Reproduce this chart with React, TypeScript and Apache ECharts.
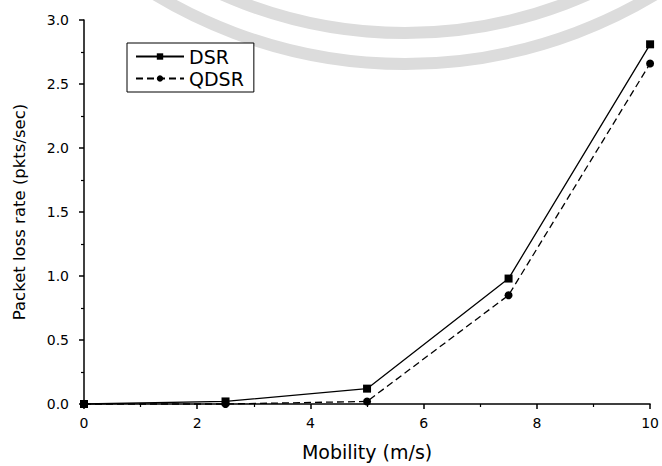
import React, { useEffect, useRef } from "react";
import * as echarts from "echarts";

const mobility = [0, 2.5, 5, 7.5, 10];
const dsr = [0, 0.02, 0.12, 0.98, 2.81];
const qdsr = [0, 0.0, 0.02, 0.85, 2.66];
const seriesNames = ["DSR", "QDSR"];
const xTitle = "Mobility (m/s)";
const yTitle = "Packet loss rate (pkts/sec)";

export default function App() {
  const ref = useRef<HTMLDivElement>(null);
  useEffect(() => {
    const chart = echarts.init(ref.current!, null, { renderer: "svg" });
    const font = "'DejaVu Sans', Verdana, sans-serif";
    const arcStyle = { stroke: "#dcdcdc", lineWidth: 12, fill: "none" };
    chart.setOption({
      animation: false,
      backgroundColor: "#fff",
      graphic: [
        {
          type: "arc",
          z: -10,
          silent: true,
          shape: { cx: 405, cy: -420, r: 453, startAngle: Math.PI / 2 - 0.7, endAngle: Math.PI / 2 + 0.7 },
          style: arcStyle,
        },
        {
          type: "arc",
          z: -10,
          silent: true,
          shape: { cx: 405, cy: -420, r: 484, startAngle: Math.PI / 2 - 0.7, endAngle: Math.PI / 2 + 0.7 },
          style: arcStyle,
        },
      ],
      grid: { left: 84, right: 8, top: 20, bottom: 59, containLabel: false },
      legend: {
        orient: "vertical",
        left: 127,
        top: 43,
        padding: [4, 10, 4, 8],
        itemGap: 3,
        itemWidth: 48,
        itemHeight: 8,
        borderColor: "#000",
        borderWidth: 1,
        borderRadius: 0,
        backgroundColor: "#fff",
        textStyle: { fontFamily: font, fontSize: 19, color: "#000" },
        data: seriesNames,
      },
      xAxis: {
        type: "value",
        min: 0,
        max: 10,
        interval: 2,
        name: xTitle,
        nameLocation: "middle",
        nameGap: 38,
        nameTextStyle: { fontFamily: font, fontSize: 19, color: "#000" },
        axisLine: { show: true, onZero: false, lineStyle: { color: "#000", width: 1.5 } },
        axisTick: { show: true, inside: false, length: 5, lineStyle: { color: "#000", width: 1.5 } },
        minorTick: { show: true, splitNumber: 2, length: 3, lineStyle: { color: "#000", width: 1.2 } },
        axisLabel: { fontFamily: font, fontSize: 14, color: "#000", margin: 12 },
        splitLine: { show: false },
      },
      yAxis: {
        type: "value",
        min: 0,
        max: 3,
        interval: 0.5,
        name: yTitle,
        nameLocation: "middle",
        nameGap: 56,
        nameRotate: 90,
        nameTextStyle: { fontFamily: font, fontSize: 16.5, color: "#000" },
        axisLine: { show: true, onZero: false, lineStyle: { color: "#000", width: 1.5 } },
        axisTick: { show: true, inside: false, length: 5, lineStyle: { color: "#000", width: 1.5 } },
        minorTick: { show: true, splitNumber: 2, length: 3, lineStyle: { color: "#000", width: 1.2 } },
        axisLabel: {
          fontFamily: font,
          fontSize: 14,
          color: "#000",
          margin: 15,
          formatter: (v: number) => v.toFixed(1),
        },
        splitLine: { show: false },
      },
      series: [
        {
          name: seriesNames[0],
          type: "line",
          data: mobility.map((x, i) => [x, dsr[i]]),
          symbol: "rect",
          symbolSize: 8,
          showAllSymbol: true,
          clip: false,
          itemStyle: { color: "#000" },
          lineStyle: { color: "#000", width: 1.3, type: "solid" },
        },
        {
          name: seriesNames[1],
          type: "line",
          data: mobility.map((x, i) => [x, qdsr[i]]),
          symbol: "circle",
          symbolSize: 8,
          showAllSymbol: true,
          clip: false,
          itemStyle: { color: "#000" },
          lineStyle: { color: "#000", width: 1.3, type: [7, 4] },
        },
      ],
    });
    return () => chart.dispose();
  }, []);
  return (
    <div
      ref={ref}
      style={{ position: "fixed", left: 0, top: 0, width: 662, height: 466, background: "#fff" }}
    />
  );
}
